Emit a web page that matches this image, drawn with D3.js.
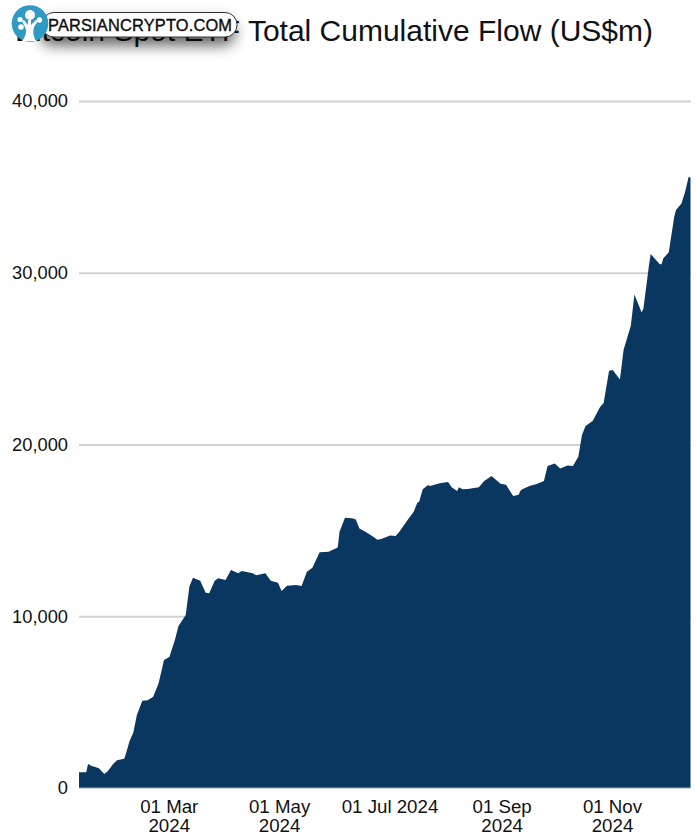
<!DOCTYPE html>
<html>
<head>
<meta charset="utf-8">
<script src="https://cdn.jsdelivr.net/npm/d3@7/dist/d3.min.js"></script>
<style>
html,body{margin:0;padding:0;background:#fff;}
svg{display:block;}
text{font-family:"Liberation Sans",Arial,sans-serif;fill:#111;}
</style>
</head>
<body>
<svg id="chart" width="697" height="837"></svg>
<script>
const titleText = "Bitcoin Spot ETF Total Cumulative Flow (US$m)";
const brandText = "PARSIANCRYPTO.COM";
const yTicks = [0, 10000, 20000, 30000, 40000];
const xTickDates = ["2024-03-01","2024-05-01","2024-07-01","2024-09-01","2024-11-01"];
const xTickLines = [["01 Mar","2024"],["01 May","2024"],["01 Jul 2024"],["01 Sep","2024"],["01 Nov","2024"]];

const dates = [
"2024-01-11","2024-01-15","2024-01-16","2024-01-18","2024-01-20","2024-01-22","2024-01-25","2024-01-27","2024-01-30",
"2024-02-01","2024-02-05","2024-02-06","2024-02-08","2024-02-10","2024-02-12","2024-02-15","2024-02-18","2024-02-21","2024-02-24","2024-02-27","2024-02-29",
"2024-03-01","2024-03-04","2024-03-06","2024-03-10","2024-03-12","2024-03-14","2024-03-18","2024-03-21","2024-03-23","2024-03-26","2024-03-28",
"2024-04-01","2024-04-04","2024-04-08","2024-04-10","2024-04-16","2024-04-18","2024-04-23","2024-04-26","2024-04-30",
"2024-05-02","2024-05-05","2024-05-10","2024-05-13","2024-05-16","2024-05-19","2024-05-23","2024-05-28",
"2024-06-02","2024-06-03","2024-06-06","2024-06-10","2024-06-12","2024-06-14","2024-06-18","2024-06-21","2024-06-24","2024-06-26",
"2024-07-01","2024-07-04","2024-07-06","2024-07-11","2024-07-14","2024-07-16","2024-07-17","2024-07-19","2024-07-22","2024-07-23","2024-07-29",
"2024-08-02","2024-08-04","2024-08-07","2024-08-08","2024-08-10","2024-08-13","2024-08-19","2024-08-22","2024-08-26","2024-08-31",
"2024-09-03","2024-09-07","2024-09-10","2024-09-11","2024-09-12","2024-09-16","2024-09-20","2024-09-24","2024-09-26","2024-09-30",
"2024-10-03","2024-10-07","2024-10-10","2024-10-13","2024-10-15","2024-10-17","2024-10-21","2024-10-25","2024-10-27","2024-10-28","2024-10-30",
"2024-11-01","2024-11-05","2024-11-07","2024-11-10","2024-11-11","2024-11-13","2024-11-17","2024-11-18","2024-11-21","2024-11-22","2024-11-27","2024-11-28","2024-11-29",
"2024-12-02","2024-12-05","2024-12-06","2024-12-09","2024-12-11","2024-12-13","2024-12-14"
];
const flows = [
914,914,1397,1281,1223,1147,815,990,1415,
1613,1706,2020,2754,3220,4250,5083,5106,5315,6095,7452,7569,
7644,8617,9432,10072,11720,12244,12069,11370,11335,12069,12208,
12110,12692,12500,12634,12500,12383,12500,12069,11953,
11470,11778,11820,11760,12593,12826,13722,13757,
14003,14920,15737,15700,15640,15115,14870,14670,14456,14497,
14700,14670,14900,15660,16087,16610,16668,17390,17640,17580,17757,
17815,17505,17290,17505,17390,17407,17505,17880,18164,17716,
17658,17000,17076,17300,17390,17580,17700,17870,18750,18890,
18600,18775,18750,19290,20550,21075,21385,22190,22420,23060,24290,
24335,23790,25500,26570,26900,28740,27690,27930,30390,31090,30500,30500,30840,
31190,33260,33650,34030,34700,35590,35550
];

const parse = d3.utcParse("%Y-%m-%d");
const x = d3.scaleUtc().domain([parse(dates[0]), parse(dates[dates.length-1])]).range([79, 690.5]);
const y = d3.scaleLinear().domain([0, 40000]).range([788, 101]);
const svg = d3.select("#chart");

// grid
const grid = svg.append("g").attr("transform","translate(79,0)")
  .call(d3.axisRight(y).tickValues(yTicks.filter(v=>v>0)).tickSize(612).tickFormat(""));
grid.select(".domain").remove();
grid.selectAll("line").attr("stroke","#d2d2d2").attr("stroke-width",2);

// area
const area = d3.area().x((d,i)=>x(parse(dates[i]))).y0(y(0)).y1(d=>y(d));
svg.append("path").datum(flows).attr("d",area).attr("fill","#09375f");
svg.append("line").attr("x1",79).attr("x2",690.5).attr("y1",y(0)).attr("y2",y(0)).attr("stroke","#9fb0bf").attr("stroke-width",1);

// y axis
const yAxis = svg.append("g").attr("transform","translate(79,0)")
  .call(d3.axisLeft(y).tickValues(yTicks).tickSize(0).tickPadding(11).tickFormat(d3.format(",")));
yAxis.select(".domain").remove();
yAxis.selectAll("text").attr("font-size",18.3).style("font-family",'"Liberation Sans",Arial,sans-serif').attr("fill","#111");

// x axis
const xAxis = svg.append("g").attr("transform","translate(-0.7,788)")
  .call(d3.axisBottom(x).tickValues(xTickDates.map(parse)).tickSize(0).tickFormat(""));
xAxis.select(".domain").remove();
xAxis.selectAll(".tick").each(function(d,i){
  const t = d3.select(this).append("text").attr("text-anchor","middle")
    .attr("font-size",18.7).style("font-family",'"Liberation Sans",Arial,sans-serif').attr("fill","#111");
  xTickLines[i].forEach((s,j)=>t.append("tspan").attr("x",0).attr("y",25+j*19).text(s));
});

// title
svg.append("text").attr("x",15).attr("y",41).attr("font-size",30).text(titleText);

// watermark
const defs = svg.append("defs");
const f = defs.append("filter").attr("id","sh").attr("x","-20%").attr("y","-80%").attr("width","140%").attr("height","320%");
f.append("feDropShadow").attr("dx",-2).attr("dy",8).attr("stdDeviation",7).attr("flood-color","#000").attr("flood-opacity",0.6);
const wm = svg.append("g");
wm.append("rect").attr("x",42).attr("y",12.5).attr("width",195).attr("height",24.5).attr("rx",12).attr("fill","#fff").attr("stroke","#333").attr("stroke-width",1).attr("filter","url(#sh)");
wm.append("text").attr("x",48).attr("y",31).attr("font-size",16.4).attr("stroke","#000").attr("stroke-width",0.35).attr("fill","#000").attr("textLength",184).text(brandText);
wm.append("circle").attr("cx",30).attr("cy",23.5).attr("r",18.3).attr("fill","#2f9ac4");
wm.append("path").attr("fill","#fff").attr("d","M22 41 C26 36 27 31 25 27 L22 21 L24 20 L28 25 L28 20 L31 20 L31 25 L36 20 L38 21 L34 27 C33 31 33 36 36 41 Z");
[[30,15,5],[20,19.5,2.6],[39.5,20,2.7],[21,27,2.8]].forEach(c=>wm.append("circle").attr("cx",c[0]).attr("cy",c[1]).attr("r",c[2]).attr("fill","#fff"));
</script>
</body>
</html>
